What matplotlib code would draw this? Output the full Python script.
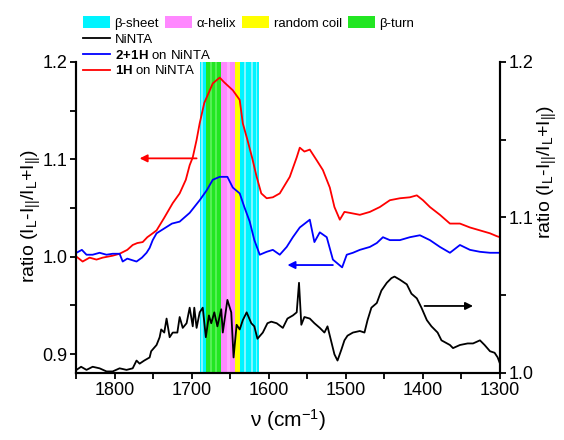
"""IR band ratio spectra of NiNTA films with secondary-structure bands."""

import matplotlib

matplotlib.use("Agg")
import matplotlib.pyplot as plt
from matplotlib.lines import Line2D
from matplotlib.patches import Patch
from matplotlib.ticker import MultipleLocator

plt.rcParams["font.family"] = ["Liberation Sans", "DejaVu Sans"]
plt.rcParams["mathtext.fontset"] = "custom"
plt.rcParams["mathtext.rm"] = "Liberation Sans"
plt.rcParams["mathtext.bf"] = "Liberation Sans:bold"
plt.rcParams["mathtext.default"] = "regular"

# --- data -------------------------------------------------------------------
red_nu = [1850, 1842, 1833, 1824, 1816, 1803, 1794, 1784, 1777, 1771, 1764,
          1758, 1751, 1746, 1736, 1725, 1716, 1708, 1703, 1699, 1694, 1690,
          1684, 1673, 1664, 1658, 1647, 1638, 1634, 1628, 1622, 1616, 1610,
          1603, 1595, 1586, 1573, 1564, 1560, 1554, 1547, 1538, 1530, 1521,
          1515, 1508, 1502, 1495, 1482, 1469, 1456, 1443, 1430, 1417, 1408,
          1400, 1391, 1378, 1365, 1352, 1339, 1326, 1313, 1304, 1300]
red_ratio = [1.000, 0.995, 0.999, 0.997, 0.999, 1.001, 1.003, 1.007, 1.012,
             1.014, 1.015, 1.020, 1.024, 1.027, 1.040, 1.055, 1.065, 1.079,
             1.094, 1.102, 1.120, 1.137, 1.158, 1.178, 1.184, 1.179, 1.171,
             1.161, 1.137, 1.120, 1.102, 1.082, 1.065, 1.060, 1.061, 1.065,
             1.082, 1.102, 1.112, 1.108, 1.110, 1.099, 1.089, 1.071, 1.051,
             1.038, 1.046, 1.045, 1.043, 1.046, 1.051, 1.058, 1.060, 1.061,
             1.063, 1.058, 1.051, 1.043, 1.034, 1.034, 1.030, 1.027, 1.024,
             1.021, 1.020]

blue_nu = [1850, 1843, 1837, 1829, 1820, 1811, 1803, 1794, 1790, 1784, 1772,
           1765, 1759, 1755, 1751, 1746, 1736, 1726, 1716, 1703, 1690, 1681,
           1673, 1664, 1654, 1647, 1638, 1632, 1625, 1619, 1612, 1603, 1595,
           1586, 1577, 1569, 1560, 1547, 1541, 1534, 1525, 1517, 1505, 1499,
           1491, 1482, 1469, 1460, 1452, 1443, 1430, 1417, 1404, 1391, 1378,
           1365, 1352, 1339, 1326, 1313, 1300]
blue_ratio = [1.004, 1.007, 1.002, 1.002, 1.004, 1.002, 1.003, 1.003, 0.995,
              0.998, 0.995, 0.999, 1.004, 1.009, 1.017, 1.024, 1.029, 1.034,
              1.036, 1.045, 1.058, 1.068, 1.079, 1.082, 1.082, 1.071, 1.065,
              1.051, 1.036, 1.017, 1.002, 1.005, 1.007, 1.002, 1.010, 1.020,
              1.030, 1.038, 1.015, 1.025, 1.020, 0.997, 0.989, 1.002, 1.004,
              1.007, 1.010, 1.014, 1.020, 1.017, 1.017, 1.020, 1.022, 1.017,
              1.010, 1.004, 1.012, 1.007, 1.005, 1.004, 1.004]

black_nu = [1850, 1844, 1837, 1829, 1820, 1811, 1803, 1794, 1785, 1777, 1772,
            1768, 1762, 1755, 1753, 1746, 1742, 1740, 1736, 1733, 1729, 1725,
            1719, 1716, 1712, 1707, 1703, 1699, 1697, 1694, 1690, 1686, 1682,
            1678, 1675, 1671, 1667, 1662, 1660, 1654, 1649, 1646, 1642, 1638,
            1634, 1629, 1623, 1619, 1615, 1608, 1602, 1597, 1590, 1582, 1576,
            1569, 1564, 1561, 1558, 1554, 1547, 1541, 1534, 1528, 1524, 1519,
            1515, 1511, 1506, 1502, 1498, 1491, 1482, 1476, 1472, 1467, 1460,
            1454, 1447, 1441, 1437, 1430, 1421, 1415, 1408, 1402, 1395, 1389,
            1381, 1376, 1365, 1361, 1352, 1342, 1335, 1326, 1320, 1313, 1307,
            1303, 1300]
black_ratio = [1.002, 1.004, 1.002, 1.004, 1.003, 1.001, 1.001, 1.003, 1.002,
               1.003, 1.008, 1.006, 1.008, 1.010, 1.014, 1.018, 1.023, 1.028,
               1.026, 1.035, 1.023, 1.026, 1.026, 1.036, 1.029, 1.032, 1.042,
               1.030, 1.042, 1.029, 1.039, 1.042, 1.023, 1.037, 1.032, 1.039,
               1.030, 1.041, 1.026, 1.047, 1.039, 1.010, 1.031, 1.028, 1.034,
               1.039, 1.032, 1.030, 1.022, 1.026, 1.032, 1.033, 1.032, 1.029,
               1.035, 1.037, 1.039, 1.058, 1.031, 1.036, 1.035, 1.032, 1.029,
               1.026, 1.030, 1.020, 1.012, 1.008, 1.015, 1.021, 1.024, 1.026,
               1.027, 1.026, 1.034, 1.042, 1.045, 1.053, 1.058, 1.061, 1.062,
               1.060, 1.057, 1.051, 1.048, 1.042, 1.034, 1.030, 1.026, 1.021,
               1.018, 1.016, 1.018, 1.019, 1.019, 1.021, 1.018, 1.014, 1.013,
               1.010, 1.006]

# secondary-structure assignment bands (cm-1)
band_names = ["β-sheet", "α-helix", "random coil", "β-turn"]
band_colors = ["#00f4ff", "#ff88ff", "#ffff00", "#22e622"]
band_ranges = [
    ("β-sheet", 1690, 1682),
    ("β-turn", 1682, 1662),
    ("α-helix", 1662, 1644),
    ("random coil", 1644, 1637),
    ("β-sheet", 1637, 1613),
]
# lighter sub-bands seen as stripes inside the main bands
stripe_ranges = [
    ("β-sheet", 1688, 1686),
    ("β-turn", 1677, 1674),
    ("β-turn", 1670, 1668),
    ("α-helix", 1655, 1650),
    ("β-sheet", 1632, 1630),
    ("β-sheet", 1624, 1621),
    ("β-sheet", 1617, 1615),
]
stripe_colors = {"β-sheet": "#80f6ff", "β-turn": "#55f055",
                 "α-helix": "#ffaaff", "random coil": "#ffff66"}

# arrows pointing each curve to its axis
red_arrow = (1694, 1768, 1.101)
blue_arrow = (1517, 1576, 0.9914)
black_arrow = (1398, 1335, 1.0431)

# --- figure -----------------------------------------------------------------
fig = plt.figure(figsize=(5.64, 4.40), dpi=100)
ax = fig.add_axes([0.1356, 0.1523, 0.7509, 0.7068])
ax2 = ax.twinx()

colors = dict(zip(band_names, band_colors))
for name, hi, lo in band_ranges:
    ax.axvspan(lo, hi, color=colors[name], lw=0, zorder=0)
for name, hi, lo in stripe_ranges:
    ax.axvspan(lo, hi, color=stripe_colors[name], lw=0, zorder=0.5)

ln_red, = ax.plot(red_nu, red_ratio, color="#ff0000", lw=1.3, zorder=3)
ln_blue, = ax.plot(blue_nu, blue_ratio, color="#0000ff", lw=1.3, zorder=3)
ln_black, = ax2.plot(black_nu, black_ratio, color="black", lw=1.3, zorder=3)

arrow_kw = dict(arrowstyle="-|>", lw=1.3, mutation_scale=11, shrinkA=0, shrinkB=0)
ax.annotate("", xy=(red_arrow[1], red_arrow[2]), xytext=(red_arrow[0], red_arrow[2]),
            arrowprops=dict(color="#ff0000", **arrow_kw))
ax.annotate("", xy=(blue_arrow[1], blue_arrow[2]), xytext=(blue_arrow[0], blue_arrow[2]),
            arrowprops=dict(color="#0000ff", **arrow_kw))
ax2.annotate("", xy=(black_arrow[1], black_arrow[2]),
             xytext=(black_arrow[0], black_arrow[2]),
             arrowprops=dict(color="black", **arrow_kw))

ax.set_xlim(1850, 1300)
ax.set_ylim(0.8805, 1.2)
ax2.set_ylim(1.0, 1.2)

ax.xaxis.set_major_locator(MultipleLocator(100))
ax.xaxis.set_minor_locator(MultipleLocator(50))
ax.yaxis.set_major_locator(MultipleLocator(0.1))
ax.yaxis.set_minor_locator(MultipleLocator(0.05))
ax2.yaxis.set_major_locator(MultipleLocator(0.1))
ax2.yaxis.set_minor_locator(MultipleLocator(0.05))
ax.yaxis.set_major_formatter(plt.FormatStrFormatter("%.1f"))
ax2.yaxis.set_major_formatter(plt.FormatStrFormatter("%.1f"))

for a in (ax, ax2):
    a.tick_params(which="both", direction="out", length=4.5, width=1.3,
                  labelsize=13, pad=2)
    a.spines["top"].set_visible(False)
    for s in ("left", "right", "bottom"):
        a.spines[s].set_linewidth(1.5)

ylab = r"ratio (I$_{L}$-I$_{||}$/I$_{L}$+I$_{||}$)"
ax.set_ylabel(ylab, fontsize=14)
ax2.set_ylabel(ylab, fontsize=14)
ax.yaxis.set_label_coords(-0.08, 0.505)
ax2.yaxis.set_label_coords(1.085, 0.646)
ax.set_xlabel(r"ν (cm$^{-1}$)", fontsize=15, labelpad=6)

patch_handles = [Patch(facecolor=c, edgecolor="none") for c in band_colors]
fig.legend(patch_handles, band_names, loc="upper left",
           bbox_to_anchor=(0.147, 0.963), ncol=4, frameon=False,
           fontsize=9.5, handlelength=2.05, handleheight=1.0,
           handletextpad=0.35, columnspacing=0.45, borderpad=0,
           borderaxespad=0)
line_handles = [Line2D([], [], color="black", lw=1.3),
                Line2D([], [], color="#0000ff", lw=1.3),
                Line2D([], [], color="#ff0000", lw=1.3)]
line_labels = ["NiNTA", r"$\mathbf{2\!+\!1H}$ on NiNTA", r"$\mathbf{1H}$ on NiNTA"]
fig.legend(line_handles, line_labels, loc="upper left",
           bbox_to_anchor=(0.147, 0.924), frameon=False, fontsize=9.5,
           handlelength=2.05, handletextpad=0.35, labelspacing=0.22,
           borderpad=0, borderaxespad=0)

fig.savefig("out.png", dpi=100)
plt.close(fig)
